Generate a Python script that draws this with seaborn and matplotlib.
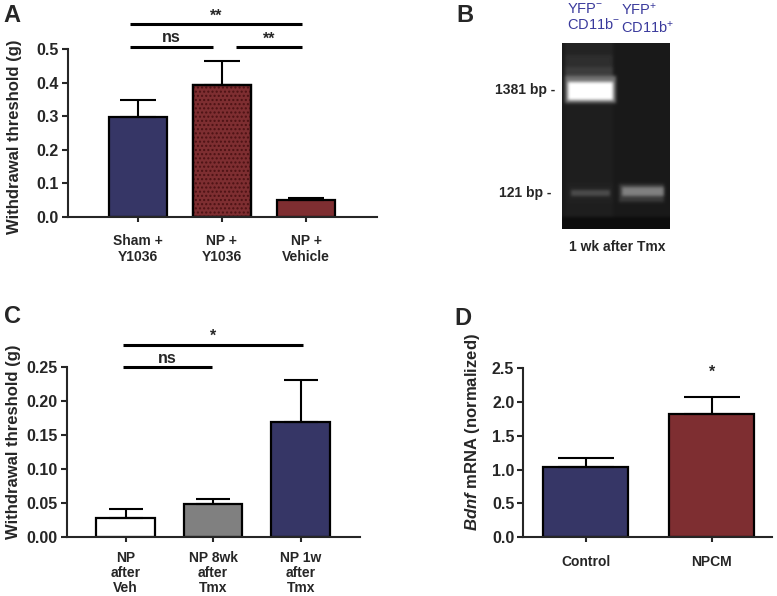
import matplotlib
matplotlib.use("Agg")
import matplotlib.pyplot as plt
import numpy as np
import seaborn as sns

# ---- data ----
a_groups = ["Sham +\nY1036", "NP +\nY1036", "NP +\nVehicle"]
a_means = [0.299, 0.393, 0.050]
a_sem = [0.049, 0.070, 0.007]
a_colors = ["#2e2e6e", "#8b2125", "#8b2125"]

c_groups = ["NP\nafter\nVeh", "NP 8wk\nafter\nTmx", "NP 1w\nafter\nTmx"]
c_means = [0.027, 0.048, 0.168]
c_sem = [0.014, 0.0075, 0.062]
c_colors = ["#ffffff", "#808080", "#2e2e6e"]

d_groups = ["Control", "NPCM"]
d_means = [1.045, 1.824]
d_sem = [0.129, 0.247]
d_colors = ["#2e2e6e", "#8b2125"]

# gel: lane centres (px from gel left), bands (lane index, px from gel top,
# width px, height px, brightness)
gel_lane_x = [28, 80]
gel_band_lane = [0, 0, 1]
gel_band_y = [47, 150, 149]
gel_band_w = [44, 38, 40]
gel_band_h = [15, 6, 8]
gel_band_level = [1.0, 0.30, 0.50]

sns.set_style("ticks")
plt.rcParams["font.family"] = ["Liberation Sans", "DejaVu Sans"]
plt.rcParams["mathtext.fontset"] = "custom"
plt.rcParams["mathtext.rm"] = "Liberation Sans"
plt.rcParams["mathtext.it"] = "Liberation Sans:bold:italic"
plt.rcParams["hatch.linewidth"] = 1.0

W, H = 777, 596
fig = plt.figure(figsize=(W / 100, H / 100), dpi=100)


def px_axes(left, top, right, bottom):
    return fig.add_axes([left / W, 1 - bottom / H, (right - left) / W, (bottom - top) / H])


def bar_panel(ax, groups, means, sem, colors, width, capsize, pad=9, spacing=1.12):
    sns.barplot(x=groups, y=means, hue=groups, palette=colors, legend=False,
                width=width, edgecolor="black", linewidth=1.6, ax=ax)
    ax.errorbar(range(len(groups)), means, yerr=[[0] * len(sem), sem], fmt="none",
                ecolor="black", elinewidth=1.5, capsize=capsize, capthick=1.5)
    sns.despine(ax=ax)
    for side in ["left", "bottom"]:
        ax.spines[side].set_linewidth(1.5)
    ax.tick_params(axis="y", length=4.5, width=1.5, labelsize=11.5, pad=2)
    ax.tick_params(axis="x", length=3.6, width=1.5, pad=pad)
    ax.set_xticks(range(len(groups)))
    ax.set_xticklabels(groups, fontsize=10, fontweight="bold", linespacing=spacing)
    ax.set_xlabel("")


def bracket(ax, x0, x1, y, label, dy):
    ax.plot([x0, x1], [y, y], color="black", lw=2.2, clip_on=False, solid_capstyle="butt")
    ax.annotate(label, xy=((x0 + x1) / 2, y), xytext=(0, dy), textcoords="offset points",
                ha="center", va="bottom", fontsize=11.5, fontweight="bold", annotation_clip=False)


def yticks(ax, ticks, fmt):
    ax.set_yticks(ticks)
    ax.set_yticklabels([fmt.format(t) for t in ticks], fontweight="bold")


# ---- panel A ----
axA = px_axes(68, 49, 377, 217)
bar_panel(axA, a_groups, a_means, a_sem, a_colors, 0.68, 13)
# dotted fill on the NP + Y1036 bar
z = axA.patches[1].get_zorder()
axA.bar([1], [a_means[1]], width=0.68, fill=False, hatch="....",
        edgecolor="#4d1214", lw=0, zorder=z + 0.1)
axA.bar([1], [a_means[1]], width=0.68, fill=False, edgecolor="black", lw=1.6, zorder=z + 0.2)
axA.set_xlim(-0.833, 2.845)
axA.set_ylim(0, 0.5)
yticks(axA, [0.0, 0.1, 0.2, 0.3, 0.4, 0.5], "{:.1f}")
axA.set_ylabel("Withdrawal threshold (g)", fontsize=12, fontweight="bold")
axA.yaxis.set_label_coords(-0.15, 0.48)
bracket(axA, -0.095, 1.95, 0.574, "**", 0)
bracket(axA, -0.095, 0.89, 0.507, "ns", 1)
bracket(axA, 1.17, 1.95, 0.507, "**", 0)

# ---- panel C ----
axC = px_axes(66.7, 366.7, 360, 536.7)
bar_panel(axC, c_groups, c_means, c_sem, c_colors, 0.67, 12, pad=7, spacing=1.05)
axC.set_xlim(-0.674, 2.678)
axC.set_ylim(0, 0.25)
yticks(axC, [0.0, 0.05, 0.10, 0.15, 0.20, 0.25], "{:.2f}")
axC.set_ylabel("Withdrawal threshold (g)", fontsize=12, fontweight="bold")
axC.yaxis.set_label_coords(-0.155, 0.56)
bracket(axC, -0.03, 2.03, 0.282, "*", 1)
bracket(axC, -0.03, 0.99, 0.249, "ns", 1)

# ---- panel D ----
axD = px_axes(523.3, 368.3, 771.7, 537.3)
bar_panel(axD, d_groups, d_means, d_sem, d_colors, 0.675, 20)
axD.set_xlim(-0.495, 1.476)
axD.set_ylim(0, 2.5)
yticks(axD, [0.0, 0.5, 1.0, 1.5, 2.0, 2.5], "{:.1f}")
axD.set_ylabel(r"$\mathit{Bdnf}$ mRNA (normalized)", fontsize=12, fontweight="bold")
axD.yaxis.set_label_coords(-0.165, 0.62)
axD.text(1, 2.33, "*", ha="center", va="bottom", fontsize=11.5, fontweight="bold")

# ---- panel B (gel photo) ----
axB = px_axes(562, 43, 670, 229)
cell = 3
gel = np.full((186 // cell, 108 // cell), 0.10)
# smear above the big band in lane 1 and a faint lane trail
x0, x1 = (gel_lane_x[0] - 24) // cell, (gel_lane_x[0] + 24) // cell
gel[0:4, x0:x1] = 0.14
gel[4:8, x0:x1] = 0.18
gel[8:12, x0:x1] = 0.24
gel[18:58, x0:x1] = 0.12
gel[58:, :] = 0.05
for lane, yc, w, h, lvl in zip(gel_band_lane, gel_band_y, gel_band_w, gel_band_h, gel_band_level):
    xc = gel_lane_x[lane]
    r0, r1 = int((yc - h / 2 - 4) // cell), int(np.ceil((yc + h / 2 + 4) / cell))
    c0, c1 = int((xc - w / 2 - 2) // cell), int(np.ceil((xc + w / 2 + 2) / cell))
    gel[r0:r1, c0:c1] = np.maximum(gel[r0:r1, c0:c1], lvl * 0.45)
    r0, r1 = int((yc - h / 2) // cell), int(np.ceil((yc + h / 2) / cell))
    c0, c1 = int((xc - w / 2) // cell), int(np.ceil((xc + w / 2) / cell))
    gel[r0:r1, c0:c1] = lvl
axB.imshow(gel, cmap="gray", vmin=0, vmax=1, interpolation="bicubic",
           extent=(0, 108, 186, 0), aspect="auto")
axB.set_xticks([])
axB.set_yticks([])
for s in axB.spines.values():
    s.set_visible(False)

blue = "#3a3a9c"
fig.text(567 / W, 1 - 2 / H, "YFP$^{-}$\nCD11b$^{-}$", color=blue, fontsize=10.5,
         va="top", ha="left", linespacing=1.1)
fig.text(621 / W, 1 - 2 / H, "YFP$^{+}$\nCD11b$^{+}$", color=blue, fontsize=10.5,
         va="top", ha="left", linespacing=1.1)
fig.text(555 / W, 1 - 90 / H, "1381 bp -", fontsize=10, fontweight="bold", ha="right", va="center")
fig.text(551 / W, 1 - 193 / H, "121 bp -", fontsize=10, fontweight="bold", ha="right", va="center")
fig.text(617 / W, 1 - 247 / H, "1 wk after Tmx", fontsize=10, fontweight="bold", ha="center", va="center")

# panel letters
for letter, x, y in [("A", 3, 4), ("B", 456, 4), ("C", 4, 305), ("D", 454, 307)]:
    fig.text(x / W, 1 - y / H, letter, fontsize=17, fontweight="bold", va="top", ha="left")

fig.savefig("out.png", dpi=100)
